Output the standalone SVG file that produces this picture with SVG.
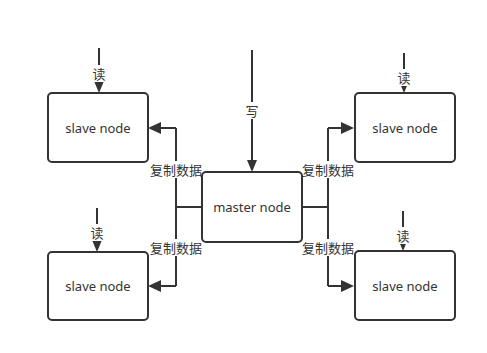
<svg xmlns="http://www.w3.org/2000/svg" width="487" height="353" viewBox="0 0 487 353">
<defs>
<style>
.box{fill:#fff;stroke:#333;stroke-width:2}
.t{font-family:"Noto Sans","Noto Sans CJK SC",sans-serif;font-size:13px;fill:#333;text-anchor:middle;dominant-baseline:central}
.l{fill:none;stroke:#333;stroke-width:2}
.h{fill:#333}
.lb{font-family:"Noto Sans CJK SC","Noto Sans",sans-serif;font-size:13px;fill:#333;text-anchor:middle;dominant-baseline:central}
.bg{fill:#fff}
</style>
</defs>
<rect width="487" height="353" fill="#fff"/>
<g id="connectors">
<path class="l" d="M252,50 V162"/>
<path class="h" d="M247,160 L252,172 L257,160 Z"/>
<path class="l" d="M99,48 V82"/>
<path class="h" d="M94,81 L99,93 L104,81 Z"/>
<path class="l" d="M404,53 V82"/>
<path class="h" d="M399,81 L404,93 L409,81 Z"/>
<path class="l" d="M97,208 V240"/>
<path class="h" d="M92,240 L97,252 L102,240 Z"/>
<path class="l" d="M403,211 V240"/>
<path class="h" d="M398,239 L403,251 L408,239 Z"/>
<path class="l" d="M202,207 H176"/>
<path class="l" d="M176,128 V286"/>
<path class="l" d="M176,128 H160"/>
<path class="h" d="M161,122 L148,128 L161,134 Z"/>
<path class="l" d="M176,286 H160"/>
<path class="h" d="M161,280 L148,286 L161,292 Z"/>
<path class="l" d="M302,207 H328"/>
<path class="l" d="M328,128 V286"/>
<path class="l" d="M328,128 H342"/>
<path class="h" d="M341,122 L354,128 L341,134 Z"/>
<path class="l" d="M328,286 H342"/>
<path class="h" d="M341,280 L354,286 L341,292 Z"/>
<rect class="bg" x="245" y="102" width="14" height="17"/>
<text class="lb" x="252" y="110.5">写</text>
<rect class="bg" x="92" y="65" width="14" height="17"/>
<text class="lb" x="99" y="73">读</text>
<rect class="bg" x="397" y="69" width="14" height="17"/>
<text class="lb" x="404" y="77">读</text>
<rect class="bg" x="90" y="224" width="14" height="17"/>
<text class="lb" x="97" y="232">读</text>
<rect class="bg" x="396" y="227" width="14" height="17"/>
<text class="lb" x="403" y="235">读</text>
<rect class="bg" x="149" y="161" width="54" height="17"/>
<text class="lb" x="176" y="169">复制数据</text>
<rect class="bg" x="149" y="239" width="54" height="17"/>
<text class="lb" x="176" y="247">复制数据</text>
<rect class="bg" x="301" y="161" width="54" height="17"/>
<text class="lb" x="328" y="169">复制数据</text>
<rect class="bg" x="301" y="239" width="54" height="17"/>
<text class="lb" x="328" y="247">复制数据</text>
</g>
<g id="master">
<rect class="box" x="202" y="172" width="100" height="70" rx="4"/>
<text class="t" x="252" y="207">master node</text>
</g>
<g id="slave-tl">
<rect class="box" x="48" y="93" width="100" height="69" rx="4"/>
<text class="t" x="98" y="128">slave node</text>
</g>
<g id="slave-tr">
<rect class="box" x="355" y="93" width="100" height="69" rx="4"/>
<text class="t" x="405" y="128">slave node</text>
</g>
<g id="slave-bl">
<rect class="box" x="48" y="252" width="100" height="68" rx="4"/>
<text class="t" x="98" y="286">slave node</text>
</g>
<g id="slave-br">
<rect class="box" x="355" y="251" width="100" height="69" rx="4"/>
<text class="t" x="405" y="286">slave node</text>
</g>
</svg>
